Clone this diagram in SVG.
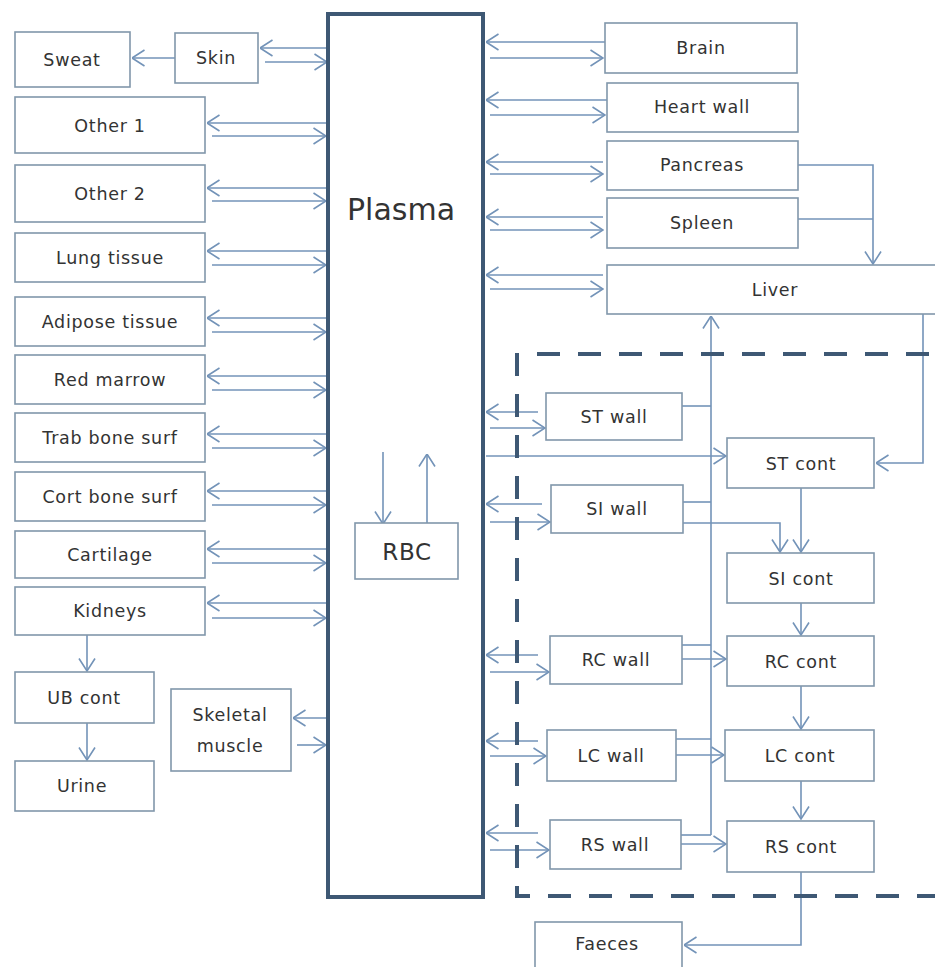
<svg xmlns="http://www.w3.org/2000/svg" width="935" height="967" viewBox="0 0 935 967">
<defs>
<style>
.box{fill:#fff;stroke:#8197ab;stroke-width:1.6}
.t{font-family:"DejaVu Sans",sans-serif;font-size:17.5px;fill:#333;text-anchor:middle;letter-spacing:0.7px}
.c{stroke:#7393b8;stroke-width:1.6;fill:none}
.ca{stroke:#7393b8;stroke-width:1.6;fill:none;marker-end:url(#ah)}
.dash{stroke:#3e5874;stroke-width:4;fill:none;stroke-dasharray:23 18}
</style>
<marker id="ah" viewBox="0 0 14 18" refX="13.5" refY="9" markerWidth="14" markerHeight="18" markerUnits="userSpaceOnUse" orient="auto">
<path d="M1,1 L13.5,9 L1,17" fill="none" stroke="#7393b8" stroke-width="1.6"/>
</marker>
</defs>
<rect width="935" height="967" fill="#fff"/>

<g id="connectors">
<path class="ca" d="M175,58 H132"/>
<path class="ca" d="M328,48 H260"/>
<path class="ca" d="M265,62 H327"/>
<path class="ca" d="M326,123 H207"/><path class="ca" d="M212,136 H326"/>
<path class="ca" d="M326,188 H207"/><path class="ca" d="M212,201 H326"/>
<path class="ca" d="M326,251 H207"/><path class="ca" d="M212,265 H326"/>
<path class="ca" d="M326,318 H207"/><path class="ca" d="M212,332 H326"/>
<path class="ca" d="M326,376 H207"/><path class="ca" d="M212,390 H326"/>
<path class="ca" d="M326,434 H207"/><path class="ca" d="M212,448 H326"/>
<path class="ca" d="M326,491 H207"/><path class="ca" d="M212,505 H326"/>
<path class="ca" d="M326,549 H207"/><path class="ca" d="M212,563 H326"/>
<path class="ca" d="M326,603 H207"/><path class="ca" d="M212,618 H326"/>
<path class="ca" d="M87,635 V671"/>
<path class="ca" d="M87,723 V760"/>
<path class="ca" d="M326,718 H293"/>
<path class="ca" d="M297,745 H326"/>
<path class="ca" d="M383,452 V524"/>
<path class="ca" d="M427,532 V454"/>
<path class="ca" d="M605,42 H486"/><path class="ca" d="M490,58 H603"/>
<path class="ca" d="M607,100 H486"/><path class="ca" d="M490,115 H605"/>
<path class="ca" d="M603,162 H486"/><path class="ca" d="M490,174 H603"/>
<path class="ca" d="M603,217 H486"/><path class="ca" d="M490,230 H603"/>
<path class="ca" d="M603,275 H486"/><path class="ca" d="M490,289 H603"/>
<path class="ca" d="M798,165 H873 V264"/>
<path class="c" d="M798,219 H873"/>
<path class="ca" d="M923,314 V463 H876"/>
<path class="ca" d="M711,835 V316"/>
<path class="c" d="M682,406 H711"/>
<path class="c" d="M683,502 H711"/>
<path class="c" d="M682,645 H711"/>
<path class="c" d="M676,739 H711"/>
<path class="c" d="M681,835 H711"/>
<path class="ca" d="M538,412 H486"/><path class="ca" d="M490,428 H545"/>
<path class="ca" d="M542,504 H486"/><path class="ca" d="M490,522 H550"/>
<path class="ca" d="M538,655 H486"/><path class="ca" d="M490,672 H549"/>
<path class="ca" d="M538,741 H486"/><path class="ca" d="M490,756 H546"/>
<path class="ca" d="M538,833 H486"/><path class="ca" d="M490,850 H549"/>
<path class="ca" d="M486,456 H726"/>
<path class="ca" d="M683,523 H780 V552"/>
<path class="ca" d="M801,488 V552"/>
<path class="ca" d="M801,603 V635"/>
<path class="ca" d="M801,686 V729"/>
<path class="ca" d="M801,781 V819"/>
<path class="ca" d="M682,659 H726"/>
<path class="ca" d="M676,755 H724"/>
<path class="ca" d="M681,844 H726"/>
<path class="ca" d="M801,872 V945 H684"/>
</g>

<g id="dashed-region">
<path class="dash" d="M517,353 V896 H935"/>
<path class="dash" d="M537,354 H935"/>
</g>

<g id="plasma">
<rect x="328" y="14" width="155" height="883" fill="none" stroke="#3e5874" stroke-width="4"/>
<text x="401" y="220" style="font-family:'DejaVu Sans',sans-serif;font-size:30px;fill:#333;text-anchor:middle">Plasma</text>
</g>
<g id="rbc"><rect class="box" x="355" y="523" width="103" height="56"/><text class="t" x="407" y="560" style="font-size:23px">RBC</text></g>

<g id="sweat"><rect class="box" x="15" y="32" width="115" height="55"/><text class="t" x="72" y="66">Sweat</text></g>
<g id="skin"><rect class="box" x="175" y="33" width="83" height="50"/><text class="t" x="216" y="64">Skin</text></g>
<g id="other1"><rect class="box" x="15" y="97" width="190" height="56"/><text class="t" x="110" y="132">Other 1</text></g>
<g id="other2"><rect class="box" x="15" y="165" width="190" height="57"/><text class="t" x="110" y="200">Other 2</text></g>
<g id="lung"><rect class="box" x="15" y="233" width="190" height="49"/><text class="t" x="110" y="264">Lung tissue</text></g>
<g id="adipose"><rect class="box" x="15" y="297" width="190" height="49"/><text class="t" x="110" y="328">Adipose tissue</text></g>
<g id="redmarrow"><rect class="box" x="15" y="355" width="190" height="49"/><text class="t" x="110" y="386">Red marrow</text></g>
<g id="trab"><rect class="box" x="15" y="413" width="190" height="49"/><text class="t" x="110" y="444">Trab bone surf</text></g>
<g id="cort"><rect class="box" x="15" y="472" width="190" height="49"/><text class="t" x="110" y="503">Cort bone surf</text></g>
<g id="cartilage"><rect class="box" x="15" y="531" width="190" height="47"/><text class="t" x="110" y="561">Cartilage</text></g>
<g id="kidneys"><rect class="box" x="15" y="587" width="190" height="48"/><text class="t" x="110" y="617">Kidneys</text></g>
<g id="ubcont"><rect class="box" x="15" y="672" width="139" height="51"/><text class="t" x="84" y="704">UB cont</text></g>
<g id="urine"><rect class="box" x="15" y="761" width="139" height="50"/><text class="t" x="82" y="792">Urine</text></g>
<g id="skeletal"><rect class="box" x="171" y="689" width="120" height="82"/><text class="t" x="230" y="721">Skeletal</text><text class="t" x="230" y="752">muscle</text></g>

<g id="brain"><rect class="box" x="605" y="23" width="192" height="50"/><text class="t" x="701" y="54">Brain</text></g>
<g id="heart"><rect class="box" x="607" y="83" width="191" height="49"/><text class="t" x="702" y="113">Heart wall</text></g>
<g id="pancreas"><rect class="box" x="607" y="141" width="191" height="49"/><text class="t" x="702" y="171">Pancreas</text></g>
<g id="spleen"><rect class="box" x="607" y="198" width="191" height="50"/><text class="t" x="702" y="229">Spleen</text></g>
<g id="liver"><rect class="box" x="607" y="265" width="330" height="49"/><text class="t" x="775" y="296">Liver</text></g>

<g id="stwall"><rect class="box" x="546" y="393" width="136" height="47"/><text class="t" x="614" y="423">ST wall</text></g>
<g id="siwall"><rect class="box" x="551" y="485" width="132" height="48"/><text class="t" x="617" y="515">SI wall</text></g>
<g id="rcwall"><rect class="box" x="550" y="636" width="132" height="48"/><text class="t" x="616" y="666">RC wall</text></g>
<g id="lcwall"><rect class="box" x="547" y="730" width="129" height="51"/><text class="t" x="611" y="762">LC wall</text></g>
<g id="rswall"><rect class="box" x="550" y="820" width="131" height="49"/><text class="t" x="615" y="851">RS wall</text></g>

<g id="stcont"><rect class="box" x="727" y="438" width="147" height="50"/><text class="t" x="801" y="470">ST cont</text></g>
<g id="sicont"><rect class="box" x="727" y="553" width="147" height="50"/><text class="t" x="801" y="585">SI cont</text></g>
<g id="rccont"><rect class="box" x="727" y="636" width="147" height="50"/><text class="t" x="801" y="668">RC cont</text></g>
<g id="lccont"><rect class="box" x="725" y="730" width="149" height="51"/><text class="t" x="800" y="762">LC cont</text></g>
<g id="rscont"><rect class="box" x="727" y="821" width="147" height="51"/><text class="t" x="801" y="853">RS cont</text></g>

<g id="faeces"><rect class="box" x="535" y="922" width="147" height="50"/><text class="t" x="607" y="950">Faeces</text></g>
</svg>
